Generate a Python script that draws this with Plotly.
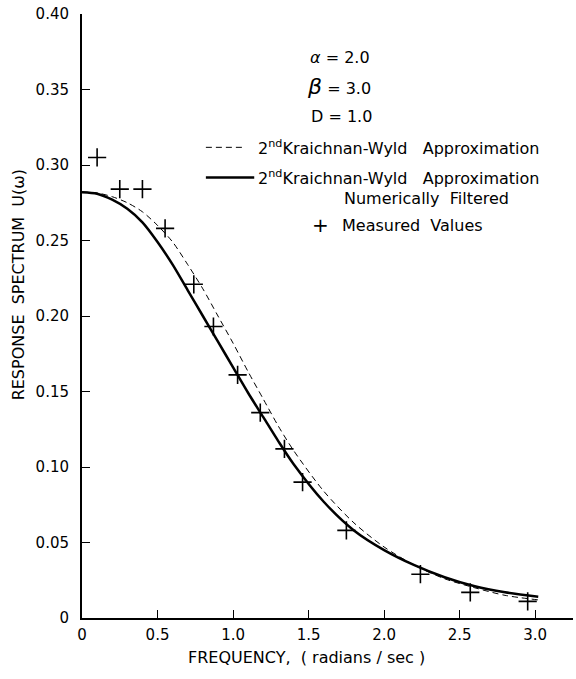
import plotly.graph_objects as go

# Data
measured_x = [0.10, 0.25, 0.40, 0.55, 0.74, 0.87, 1.03, 1.18, 1.34, 1.46, 1.75, 2.24, 2.57, 2.95]
measured_y = [0.305, 0.284, 0.284, 0.258, 0.221, 0.193, 0.161, 0.136, 0.112, 0.090, 0.058, 0.029, 0.017, 0.011]

curve_x = [0.0, 0.1, 0.2, 0.3, 0.4, 0.5, 0.6, 0.7, 0.8, 0.9, 1.0, 1.1, 1.2, 1.3, 1.4, 1.6, 1.8, 2.0, 2.2, 2.4, 2.6, 2.8, 3.02]
filtered_y = [0.282, 0.281, 0.277, 0.271, 0.262, 0.249, 0.234, 0.217, 0.200, 0.183, 0.166, 0.149, 0.133, 0.117, 0.102, 0.077, 0.058, 0.045, 0.035, 0.027, 0.021, 0.017, 0.014]
approx_y = [0.282, 0.2815, 0.279, 0.275, 0.269, 0.260, 0.249, 0.234, 0.218, 0.200, 0.182, 0.163, 0.145, 0.127, 0.111, 0.084, 0.063, 0.047, 0.035, 0.026, 0.020, 0.015, 0.012]

x_ticks = [0, 0.5, 1.0, 1.5, 2.0, 2.5, 3.0]
x_ticktext = ["0", "0.5", "1.0", "1.5", "2.0", "2.5", "3.0"]
y_ticks = [0, 0.05, 0.10, 0.15, 0.20, 0.25, 0.30, 0.35, 0.40]
y_ticktext = ["0", "0.05", "0.10", "0.15", "0.20", "0.25", "0.30", "0.35", "0.40"]

FONT = "DejaVu Sans"

fig = go.Figure()
fig.add_trace(go.Scatter(x=curve_x, y=approx_y, mode="lines",
                         line=dict(color="black", width=1, dash="6px,4px", shape="spline", smoothing=0.8),
                         name="2nd Kraichnan-Wyld Approximation"))
fig.add_trace(go.Scatter(x=curve_x, y=filtered_y, mode="lines",
                         line=dict(color="black", width=2.5, shape="spline", smoothing=0.8),
                         name="2nd Kraichnan-Wyld Approximation Numerically Filtered"))
fig.add_trace(go.Scatter(x=measured_x, y=measured_y, mode="markers",
                         marker=dict(symbol="cross-thin", size=13, line=dict(color="black", width=1.6)),
                         name="Measured Values"))

ann = []
tf = dict(family=FONT, size=16, color="black")
ann.append(dict(x=1.71, y=0.371, text="<i>α</i> = 2.0", showarrow=False, xanchor="center", yanchor="middle", font=tf))
ann.append(dict(x=1.70, y=0.352, text="<i><span style='font-size:22px'>β</span></i> = 3.0", showarrow=False, xanchor="center", yanchor="middle", font=tf))
ann.append(dict(x=1.72, y=0.332, text="D = 1.0", showarrow=False, xanchor="center", yanchor="middle", font=tf))
ann.append(dict(x=1.15, y=0.3117, text="2<sup>nd</sup>Kraichnan-Wyld   Approximation", showarrow=False, xanchor="left", yanchor="middle", font=tf))
ann.append(dict(x=1.15, y=0.2918, text="2<sup>nd</sup>Kraichnan-Wyld   Approximation", showarrow=False, xanchor="left", yanchor="middle", font=tf))
ann.append(dict(x=1.72, y=0.2776, text="Numerically  Filtered", showarrow=False, xanchor="left", yanchor="middle", font=tf))
ann.append(dict(x=1.58, y=0.260, text="+", showarrow=False, xanchor="center", yanchor="middle", font=dict(family=FONT, size=20, color="black")))
ann.append(dict(x=1.71, y=0.260, text="Measured  Values", showarrow=False, xanchor="left", yanchor="middle", font=tf))
ann.append(dict(xref="paper", yref="paper", x=0.458, y=-0.066, text="FREQUENCY,  ( radians / sec )", showarrow=False,
                xanchor="center", yanchor="middle", font=dict(family=FONT, size=16, color="black")))
ann.append(dict(xref="paper", yref="paper", x=-0.130, y=0.551, text="RESPONSE  SPECTRUM  U(ω)", showarrow=False,
                textangle=-90, xanchor="center", yanchor="middle", font=dict(family=FONT, size=16, color="black")))

shapes = [
    dict(type="line", x0=0.82, x1=1.07, y0=0.3117, y1=0.3117, line=dict(color="black", width=1, dash="6px,4px")),
    dict(type="line", x0=0.82, x1=1.14, y0=0.2918, y1=0.2918, line=dict(color="black", width=2.5)),
]

fig.update_layout(
    width=576, height=679,
    margin=dict(l=82, r=3, t=14, b=61),
    paper_bgcolor="white", plot_bgcolor="white",
    showlegend=False,
    annotations=ann, shapes=shapes,
    font=dict(family=FONT, size=14, color="black"),
)
fig.update_xaxes(range=[0, 3.25], tickvals=x_ticks, ticktext=x_ticktext, ticks="inside", ticklen=8, tickcolor="black",
                 showline=True, linecolor="black", linewidth=2, showgrid=False, zeroline=False,
                 tickfont=dict(family=FONT, size=15), ticklabelstandoff=2)
fig.update_yaxes(range=[0, 0.40], tickvals=y_ticks, ticktext=y_ticktext, ticks="inside", ticklen=8, tickcolor="black",
                 showline=True, linecolor="black", linewidth=2, showgrid=False, zeroline=False,
                 tickfont=dict(family=FONT, size=15), ticklabelstandoff=8)

fig.write_html("out.html")
